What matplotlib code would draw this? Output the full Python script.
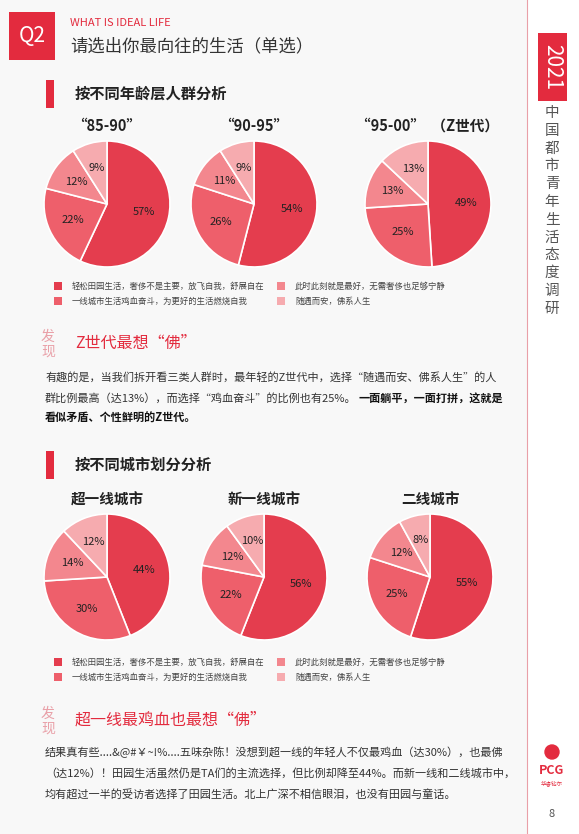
import matplotlib.pyplot as plt
from matplotlib.patches import Rectangle

plt.rcParams['font.family'] = ['Noto Sans CJK SC', 'DejaVu Sans']

options = ["轻松田园生活，奢侈不是主要，放飞自我，舒展自在",
           "一线城市生活鸡血奋斗，为更好的生活燃烧自我",
           "此时此刻就是最好，无需奢侈也足够宁静",
           "随遇而安，佛系人生"]
colors = ["#e43d4e", "#ee5f6b", "#f3878e", "#f6abaf"]

age_groups = ["“85-90”", "“90-95”", "“95-00”  （Z世代）"]
age_values = [[57, 22, 12, 9], [54, 26, 11, 9], [49, 25, 13, 13]]
city_groups = ["超一线城市", "新一线城市", "二线城市"]
city_values = [[44, 30, 14, 12], [56, 22, 12, 10], [55, 25, 12, 8]]

W, H = 579, 834
RED = "#e32b3e"
fig = plt.figure(figsize=(W / 100, H / 100), dpi=100)
fig.patch.set_facecolor("#f6f6f6")
bg = fig.add_axes([0, 0, 1, 1])
bg.set_xlim(0, W)
bg.set_ylim(H, 0)
bg.axis("off")

# page frame and sidebar
bg.add_patch(Rectangle((0, 0), 527, H, fc="#f8f8f8", ec="none"))
bg.add_patch(Rectangle((527, 0), W - 527, H, fc="white", ec="none"))
bg.plot([527, 527], [0, H], color="#e9a0a8", lw=0.8)
bg.add_patch(Rectangle((538, 33), 29, 68, fc=RED, ec="none"))
bg.text(552, 67, "2021", rotation=-90, color="white", fontsize=15, ha="center", va="center")
side = "中国都市青年生活态度调研"
for i, ch in enumerate(side):
    bg.text(552, 113 + i * 17.8, ch, fontsize=10.5, color="#555555", ha="center", va="center")
bg.add_patch(plt.Circle((552, 752), 7, color=RED))
bg.text(552, 771, "PCG", fontsize=9, color=RED, ha="center", va="center", fontweight="bold")
bg.text(552, 783, "华睿钻尔", fontsize=4, color=RED, ha="center", va="center")
bg.text(552, 814, "8", fontsize=8, color="#555555", ha="center", va="center")

# header
bg.add_patch(Rectangle((9, 12), 46, 48, fc=RED, ec="none"))
bg.text(32, 36, "Q2", color="white", fontsize=15, ha="center", va="center")
bg.text(70, 23, "WHAT IS IDEAL LIFE", color=RED, fontsize=8, va="center")
bg.text(70, 46, "请选出你最向往的生活（单选）", color="#333333", fontsize=12.5, va="center")


def section(y, title):
    bg.add_patch(Rectangle((46, y - 14), 8, 28, fc=RED, ec="none"))
    bg.text(75, y, title, fontsize=11, fontweight="bold", color="#222222", va="center")


def legend(y):
    for i, lab in enumerate(options):
        x = 58 if i < 2 else 281
        yy = y + (i % 2) * 15
        bg.add_patch(Rectangle((x - 4, yy - 4), 8, 8, fc=colors[i], ec="none"))
        bg.text(x + 14, yy, lab, fontsize=6, color="#444444", va="center")


def finding(y, title):
    bg.text(48, y - 6, "发", fontsize=10, color="#e9a0a8", ha="center", va="center", style="italic")
    bg.text(48, y + 9, "现", fontsize=10, color="#e9a0a8", ha="center", va="center", style="italic")
    bg.text(75, y, title, fontsize=11.5, color=RED, va="center")


def pies(cy, centers, groups, values, title_y):
    r = 63
    for cx, g, vals in zip(centers, groups, values):
        ax = fig.add_axes([(cx - r) / W, 1 - (cy + r) / H, 2 * r / W, 2 * r / H])
        ax.pie(vals, colors=colors, startangle=90, counterclock=False,
               wedgeprops=dict(edgecolor="white", linewidth=1.2),
               autopct=lambda p: f"{p:.0f}%", pctdistance=0.6,
               textprops=dict(fontsize=8, color="#222222"))
        ax.set_xlim(-1, 1)
        ax.set_ylim(-1, 1)
        ax.set_aspect("equal")
        bg.text(cx, title_y, g, fontsize=10.5, fontweight="bold", color="#222222",
                ha="center", va="center")


section(94, "按不同年龄层人群分析")
pies(204, [107, 254, 428], age_groups, age_values, 126)
legend(286)
finding(343, "Z世代最想“佛”")
para1 = ["有趣的是，当我们拆开看三类人群时，最年轻的Z世代中，选择“随遇而安、佛系人生”的人",
         "群比例最高（达13%），而选择“鸡血奋斗”的比例也有25%。"]
bg.text(45, 377, para1[0], fontsize=8, color="#333333", va="center")
t = bg.text(45, 398, para1[1], fontsize=8, color="#333333", va="center")
renderer = fig.canvas.get_renderer()
ext = t.get_window_extent(renderer)
x_end = ext.x1 / fig.dpi * 100 + 2
bg.text(x_end, 398, "一面躺平，一面打拼，这就是", fontsize=8, color="#111111",
        fontweight="bold", va="center")
bg.text(45, 418, "看似矛盾、个性鲜明的Z世代。", fontsize=8, color="#111111",
        fontweight="bold", va="center")

section(465, "按不同城市划分分析")
pies(577, [107, 264, 430], city_groups, city_values, 500)
legend(662)
finding(720, "超一线最鸡血也最想“佛”")
para2 = ["结果真有些....&@#￥~!%....五味杂陈！没想到超一线的年轻人不仅最鸡血（达30%），也最佛",
         "（达12%）！田园生活虽然仍是TA们的主流选择，但比例却降至44%。而新一线和二线城市中，",
         "均有超过一半的受访者选择了田园生活。北上广深不相信眼泪，也没有田园与童话。"]
for i, line in enumerate(para2):
    bg.text(45, 752 + i * 21.5, line, fontsize=8, color="#333333", va="center")

fig.savefig("out.png", dpi=100, facecolor=fig.get_facecolor())
